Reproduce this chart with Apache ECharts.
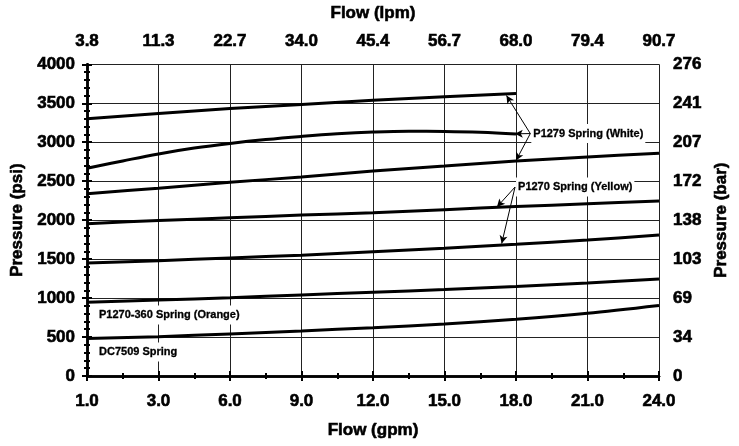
<!DOCTYPE html>
<html><head><meta charset="utf-8">
<script src="https://cdn.jsdelivr.net/npm/echarts@6/dist/echarts.min.js"></script>
<style>html,body{margin:0;padding:0;background:#fff}#c{width:739px;height:446px}</style>
</head><body><div id="c"></div>
<script>
// Tick labels
const gpmLabels = ['1.0','3.0','6.0','9.0','12.0','15.0','18.0','21.0','24.0'];
const lpmLabels = ['3.8','11.3','22.7','34.0','45.4','56.7','68.0','79.4','90.7'];
const psiLabels = ['0','500','1000','1500','2000','2500','3000','3500','4000'];
const barLabels = ['0','34','69','103','138','172','207','241','276'];

// Series (flow in gpm axis units, pressure in psi)
const flowShort = [0,3,6,9,12,15,18];
const flowFull  = [0,3,6,9,12,15,18,21,24];
const flowCurve = [0,1.5,3,4.5,6,7.5,9,10.5,12,13.5,15,16.5,18];
const whiteTop    = [3300,3370,3432,3485,3538,3582,3625];
const whiteMid    = [2665,2760,2850,2925,2985,3035,3075,3108,3130,3140,3138,3128,3105];
const whiteBottom = [2340,2410,2485,2555,2630,2695,2760,2810,2860];
const yellowTop    = [1955,1995,2030,2065,2095,2135,2175,2210,2245];
const yellowBottom = [1450,1480,1515,1550,1595,1640,1690,1745,1810];
const orange = [945,975,1005,1040,1075,1110,1150,1195,1245];
const dc7509 = [480,505,540,578,620,668,728,805,905];

// Annotation anchors [flow, psi]
const whiteLabelAt = [18.6, 3111];
const whiteTargets = [[17.6, 3600],[17.95, 3108],[18.0, 2765]];
const yellowLabelAt = [17.96, 2425];
const yellowTargets = [[17.2, 2168],[17.4, 1700]];
const orangeLabelAt = [0.42, 782];
const dcLabelAt = [0.42, 308];

const FONT = '"Liberation Sans", Arial, sans-serif';
const pair = (xs, ys) => xs.map((x,i)=>[x, ys[i]]);
const lbl = (arr, step) => (v) => arr[Math.round(v / step)];

const heavy = {textBorderColor:'#000', textBorderWidth:0.6};
const tickText = Object.assign({fontFamily:FONT, fontSize:17, fontWeight:'bold', color:'#000'}, heavy);
const nameText = Object.assign({fontFamily:FONT, fontSize:17, fontWeight:'bold', color:'#000'}, heavy);
const annText = {fontFamily:FONT, fontSize:11, fontWeight:'bold', color:'#000', backgroundColor:'#fff',
  textBorderColor:'#000', textBorderWidth:0.3};

function lineSeries(data, smooth, extra){
  return Object.assign({type:'line', data, smooth: smooth||false, symbol:'none', silent:true,
    lineStyle:{color:'#000', width:3}, xAxisIndex:0, yAxisIndex:0, z:3}, extra||{});
}
function arrows(from, targets){
  return targets.map(t => [{coord:from},{coord:t}]);
}
function textPoint(at, text, dist){
  return {coord:at, symbol:'circle', symbolSize:0,
    label:Object.assign({show:true, formatter:text, position:'right', distance:dist, padding:[4,2]}, annText)};
}

const chart = echarts.init(document.getElementById('c'), null, {renderer:'canvas'});
const axisLine = {show:true, lineStyle:{color:'#000', width:2.5}};
const majorTick = {show:true, length:5, lineStyle:{color:'#000', width:2}};
chart.setOption({
  animation:false,
  backgroundColor:'#fff',
  grid:{left:87, right:80, top:64, bottom:70},
  xAxis:[
    {type:'value', position:'bottom', min:0, max:24, interval:3,
     axisLine, axisTick:majorTick,
     minorTick:{show:true, splitNumber:2, length:3, lineStyle:{color:'#000', width:2}},
     splitLine:{show:true, lineStyle:{color:'#222', width:1}},
     axisLabel:Object.assign({formatter:lbl(gpmLabels,3), margin:17}, tickText),
     name:'Flow (gpm)', nameLocation:'middle', nameGap:46, nameTextStyle:nameText},
    {type:'value', position:'top', min:0, max:24, interval:3,
     axisLine, axisTick:majorTick,
     minorTick:{show:true, splitNumber:2, length:3, lineStyle:{color:'#000', width:2}},
     splitLine:{show:false},
     axisLabel:Object.assign({formatter:lbl(lpmLabels,3), margin:14}, tickText),
     name:'Flow (lpm)', nameLocation:'middle', nameGap:42, nameTextStyle:nameText}
  ],
  yAxis:[
    {type:'value', position:'left', min:0, max:4000, interval:500,
     axisLine, axisTick:majorTick,
     minorTick:{show:true, splitNumber:5, length:3, lineStyle:{color:'#000', width:2}},
     splitLine:{show:true, lineStyle:{color:'#222', width:1}},
     axisLabel:Object.assign({formatter:lbl(psiLabels,500), margin:12}, tickText),
     name:'Pressure (psi)', nameLocation:'middle', nameGap:59, nameTextStyle:nameText},
    {type:'value', position:'right', min:0, max:4000, interval:500,
     axisLine, axisTick:majorTick,
     minorTick:{show:true, splitNumber:5, length:3, lineStyle:{color:'#000', width:2}},
     splitLine:{show:false},
     axisLabel:Object.assign({formatter:lbl(barLabels,500), margin:14}, tickText),
     name:'Pressure (bar)', nameLocation:'middle', nameGap:52, nameTextStyle:nameText}
  ],
  series:[
    lineSeries(pair(flowShort, whiteTop), false, {
      markLine:{silent:true, symbol:['none','arrow'], symbolSize:[6,8], label:{show:false},
        lineStyle:{color:'#000', width:1, type:'solid'},
        data: arrows(whiteLabelAt, whiteTargets).concat(arrows(yellowLabelAt, yellowTargets))},
      markPoint:{silent:true, data:[
        textPoint(whiteLabelAt, 'P1279 Spring (White)', 1),
        textPoint(yellowLabelAt, 'P1270 Spring (Yellow)', 1),
        textPoint(orangeLabelAt, 'P1270-360 Spring (Orange)', 0),
        textPoint(dcLabelAt, 'DC7509 Spring', 0)
      ]}
    }),
    lineSeries(pair(flowCurve, whiteMid), 0.4),
    lineSeries(pair(flowFull, whiteBottom), 0.3),
    lineSeries(pair(flowFull, yellowTop), 0.3),
    lineSeries(pair(flowFull, yellowBottom), 0.3),
    lineSeries(pair(flowFull, orange), 0.3),
    lineSeries(pair(flowFull, dc7509), 0.3)
  ]
});
</script></body></html>
